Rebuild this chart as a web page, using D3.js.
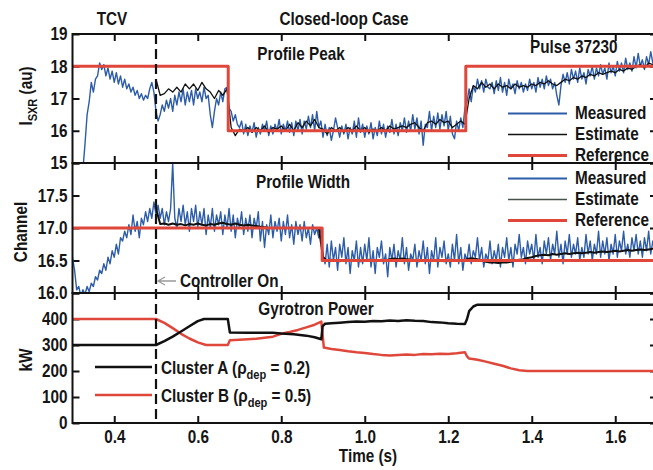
<!DOCTYPE html>
<html>
<head>
<meta charset="utf-8">
<script src="https://cdn.jsdelivr.net/npm/d3@7"></script>
<style>
  html, body { margin: 0; padding: 0; background: #fff; }
  svg text {
    font-family: "Liberation Sans Narrow", "Arial Narrow", "Liberation Sans", Arial, sans-serif;
    font-weight: bold;
    fill: #151515;
  }
</style>
</head>
<body>
<svg id="chart" width="653" height="470"></svg>
<script>
// ---- time axis ----
const timeDomain = [0.3, 1.7];
const timeTicks = [0.4, 0.6, 0.8, 1.0, 1.2, 1.4, 1.6];
const controllerOnTime = 0.5;

// ---- profile peak (I_SXR, au) ----
const peakTicks = [15, 16, 17, 18, 19];
const peakMeasuredStart = 0.325, peakMeasuredStep = 0.005;
const peakMeasured = [
  14.8, 15.6, 16.5, 16.9, 17.5,
  17.2, 17.6, 17.7, 18.1, 17.9, 18.05, 17.7, 17.95, 17.6, 17.85,
  17.5, 17.8, 17.45, 17.7, 17.35, 17.6, 17.3, 17.45, 17.2, 17.35,
  17.1, 17.25, 17.0, 17.15, 16.95, 17.1, 17.0, 17.3, 17.5, 17.2,
  16.6, 16.3, 16.5, 16.8, 16.6, 16.95, 16.7, 17.0, 16.6, 17.1,
  16.8, 17.2, 16.9, 17.3, 16.8, 17.2, 16.9, 17.25, 16.8, 17.3,
  17.0, 17.2, 16.9, 17.35, 17.0, 17.1, 16.5, 16.1, 16.6, 17.0,
  16.8, 17.2, 16.9, 17.3, 17.35, 16.7, 16.6, 16.3, 16.5, 16.2,
  16.1, 16.3, 15.9, 16.2, 15.85, 16.15, 15.95, 16.25, 15.8, 16.1,
  15.9, 16.2, 16.0, 16.3, 15.85, 16.15, 15.9, 16.2, 16.0, 16.35,
  15.9, 16.2, 16.0, 16.3, 15.95, 16.25, 15.85, 16.3, 16.0, 16.35,
  15.9, 16.3, 16.05, 16.45, 16.1, 16.5, 16.0, 16.6, 16.1, 16.3,
  15.8, 16.2, 15.85, 16.1, 15.7, 16.0, 16.4, 16.1, 15.8, 16.15,
  15.9, 16.2, 15.75, 16.1, 15.9, 16.3, 15.8, 16.4, 15.95, 16.2,
  15.8, 16.15, 15.9, 16.25, 15.75, 16.1, 15.85, 16.3, 15.9, 16.2,
  15.8, 16.15, 15.95, 16.35, 15.9, 16.2, 15.85, 16.25, 16.0, 16.4,
  15.95, 16.3, 16.0, 16.5, 16.05, 16.4, 15.9, 16.3, 15.55, 16.2,
  16.1, 16.6, 16.0, 16.45, 16.1, 16.55, 16.05, 16.5, 16.15, 16.6,
  16.0, 16.45, 15.9, 15.75, 16.3, 16.0, 16.4, 16.1, 16.7, 16.9,
  17.3, 16.9, 17.4, 17.2, 17.6, 17.3, 17.55, 17.2, 17.6, 17.35,
  17.3, 17.5, 17.15, 17.55, 17.25, 17.65, 17.2, 17.5, 17.1, 17.6,
  17.3, 17.45, 17.15, 17.55, 17.3, 17.5, 17.2, 17.45, 17.25, 17.6,
  17.3, 17.5, 17.2, 17.65, 17.35, 17.6, 17.3, 17.7, 17.4, 17.6,
  17.3, 17.5, 17.1, 16.8, 17.4, 17.75, 17.5, 17.8, 17.45, 17.9,
  17.6, 17.85, 17.5, 17.95, 17.6, 17.8, 17.45, 17.9, 17.7, 18.0,
  17.6, 17.95, 17.7, 18.05, 17.75, 17.95, 17.6, 18.1, 17.8, 18.0,
  17.7, 18.15, 17.85, 18.1, 17.8, 18.25, 17.9, 18.1, 17.85, 18.3,
  17.95, 18.4, 18.0, 18.2, 17.9, 18.3, 18.05, 18.45, 18.1, 18.3,
  18.0
];
const peakEstimateStart = 0.5, peakEstimateStep = 0.01;
const peakEstimate = [
  17.6, 17.1, 17.15, 17.3, 17.2, 17.35, 17.2, 17.45, 17.3, 17.45,
  17.25, 17.5, 17.3, 17.2, 17.0, 17.25, 17.1, 17.3, 16.1, 15.85,
  16.05, 16.0, 16.1, 15.95, 16.1, 16.0, 16.15, 15.95, 16.1, 16.05,
  16.15, 16.0, 16.2, 16.0, 16.25, 16.1, 16.3, 16.15, 16.35, 16.1,
  16.05, 15.9, 16.1, 16.0, 16.1, 15.95, 16.1, 16.0, 16.15, 16.0,
  16.1, 15.95, 16.05, 16.0, 16.1, 16.0, 16.15, 16.05, 16.1, 16.15,
  16.1, 16.2, 16.25, 16.1, 16.0, 16.25, 16.3, 16.2, 16.35, 16.25,
  16.3, 16.1, 16.2, 16.3, 16.2, 17.0, 17.4, 17.3, 17.5, 17.35,
  17.45, 17.3, 17.45, 17.35, 17.4, 17.3, 17.45, 17.35, 17.4, 17.35,
  17.45, 17.4, 17.5, 17.45, 17.55, 17.45, 17.4, 17.5, 17.6, 17.55,
  17.65, 17.6, 17.7, 17.65, 17.75, 17.7, 17.8, 17.75, 17.8, 17.85,
  17.8, 17.9, 17.85, 17.95, 17.9, 18.0, 18.05, 17.95, 18.1, 18.05,
  18.1
];
const peakRefTimes = [0.3, 0.673, 1.242, 1.7];
const peakRefLevels = [18, 16, 18, 18];

// ---- profile width (channel) ----
const widthTicks = [16.0, 16.5, 17.0, 17.5, 18.0];
const widthMeasuredStart = 0.3, widthMeasuredStep = 0.005;
const widthMeasured = [
  16.55, 16.35, 16.05, 16.1, 15.95, 16.05, 15.98, 16.1, 16.02, 16.15,
  16.1, 16.25, 16.2, 16.35, 16.3, 16.45, 16.35, 16.55, 16.45, 16.65,
  16.55, 16.75, 16.6, 16.85, 16.8, 16.95, 16.85, 17.05, 16.9, 17.2,
  16.95, 17.1, 16.85, 17.15, 17.05, 17.25, 17.1, 17.3, 17.15, 17.4,
  17.2, 17.35, 17.15, 17.3, 17.05, 17.25, 17.1, 17.3, 18.0, 17.15,
  17.0, 17.3, 17.1, 17.35, 17.05, 17.25, 16.95, 17.3, 17.1, 17.35,
  17.0, 17.25, 17.05, 17.3, 16.9, 17.2, 17.0, 17.3, 16.95, 17.2,
  17.05, 17.25, 16.9, 17.2, 17.0, 17.3, 16.95, 17.2, 16.85, 17.15,
  17.0, 17.25, 16.9, 17.15, 16.95, 17.2, 16.85, 17.15, 17.0, 17.25,
  16.8, 17.1, 16.7, 17.05, 16.9, 17.2, 16.85, 17.1, 16.95, 17.15,
  16.8, 17.1, 16.9, 17.2, 16.85, 17.05, 16.75, 17.1, 16.9, 17.05,
  16.8, 17.1, 16.85, 17.0, 16.75, 17.05, 16.9, 17.0, 16.85, 17.0,
  16.6, 16.45, 16.75, 16.4, 16.8, 16.5, 16.7, 16.35, 16.75, 16.55,
  16.85, 16.45, 16.7, 16.3, 16.65, 16.5, 16.8, 16.4, 16.7, 16.45,
  16.75, 16.5, 16.85, 16.4, 16.65, 16.3, 16.7, 16.55, 16.8, 16.45,
  16.6, 16.25, 16.7, 16.5, 16.75, 16.4, 16.65, 16.5, 16.85, 16.45,
  16.7, 16.35, 16.6, 16.5, 16.75, 16.4, 16.65, 16.5, 16.8, 16.45,
  16.7, 16.3, 16.65, 16.5, 16.85, 16.4, 16.7, 16.55, 16.8, 16.45,
  16.6, 16.4, 16.75, 16.5, 16.9, 16.45, 16.7, 16.35, 16.6, 16.5,
  16.75, 16.45, 16.65, 16.55, 16.85, 16.5, 16.7, 16.4, 16.6, 16.5,
  16.8, 16.45, 16.65, 16.5, 16.75, 16.4, 16.7, 16.55, 16.85, 16.5,
  16.7, 16.4, 16.75, 16.6, 16.9, 16.55, 16.7, 16.45, 16.8, 16.6,
  16.75, 16.5, 16.9, 16.55, 16.7, 16.45, 16.8, 16.6, 16.85, 16.5,
  16.75, 16.6, 16.95, 16.55, 16.75, 16.45, 16.8, 16.6, 16.9, 16.55,
  16.75, 16.6, 16.85, 16.5, 16.7, 16.55, 16.9, 16.6, 16.8, 16.5,
  16.75, 16.6, 16.95, 16.55, 16.8, 16.6, 16.85, 16.5, 16.75, 16.6,
  16.9, 16.55, 16.8, 16.65, 16.95, 16.6, 16.75, 16.55, 16.85, 16.65,
  16.9, 16.6, 16.8, 16.55, 16.85, 16.65, 16.95, 16.6, 16.8, 16.65,
  16.85
];
const widthEstimateStart = 0.5, widthEstimateStep = 0.01;
const widthEstimate = [
  17.3, 17.06, 17.07, 17.05, 17.07, 17.05, 17.06, 17.04, 17.06, 17.05,
  17.07, 17.05, 17.04, 17.06, 17.05, 17.07, 17.08, 17.06, 17.05, 17.07,
  17.05, 17.04, 17.05, 17.04, 17.03, 17.02, 17.01, 17.0, 17.0, 17.0,
  17.0, 17.0, 17.0, 17.0, 17.0, 17.0, 17.0, 17.0, 17.0, 17.0,
  16.55, 16.5, 16.51, 16.5, 16.49, 16.5, 16.51, 16.5, 16.5, 16.49,
  16.5, 16.51, 16.5, 16.5, 16.51, 16.5, 16.52, 16.53, 16.52, 16.53,
  16.52, 16.51, 16.5, 16.49, 16.5, 16.5, 16.51, 16.5, 16.5, 16.49,
  16.5, 16.51, 16.5, 16.5, 16.51, 16.53, 16.53, 16.52, 16.5, 16.48,
  16.47, 16.47, 16.46, 16.47, 16.47, 16.48, 16.5, 16.51, 16.52, 16.54,
  16.55, 16.57, 16.58, 16.59, 16.58, 16.6, 16.59, 16.6, 16.61, 16.6,
  16.61, 16.62, 16.61, 16.62, 16.63, 16.62, 16.63, 16.64, 16.63, 16.64,
  16.65, 16.64, 16.65, 16.66, 16.65, 16.66, 16.67, 16.66, 16.67, 16.68,
  16.68
];
const widthRefTimes = [0.3, 0.898, 1.7];
const widthRefLevels = [17.0, 16.5, 16.5];

// ---- gyrotron power (kW) ----
const powerTicks = [0, 100, 200, 300, 400, 500];
const clusterATimes = [0.3, 0.5, 0.52, 0.54, 0.56, 0.58, 0.6, 0.615, 0.672, 0.677,
  0.72, 0.78, 0.80, 0.83, 0.86, 0.88, 0.896, 0.899, 0.905, 0.92, 0.94, 0.96, 0.98,
  1.0, 1.02, 1.04, 1.06, 1.08, 1.1, 1.12, 1.14, 1.16, 1.18, 1.2, 1.22, 1.24,
  1.245, 1.25, 1.26, 1.27, 1.7];
const clusterAPower = [300, 300, 315, 332, 352, 372, 392, 400, 400, 348,
  347, 347, 344, 341, 336, 330, 322, 372, 382, 384, 386, 388, 390,
  389, 392, 391, 394, 392, 395, 393, 392, 388, 387, 384, 382, 381,
  400, 430, 448, 455, 455];
const clusterBTimes = [0.3, 0.5, 0.52, 0.54, 0.56, 0.58, 0.6, 0.62, 0.672, 0.677,
  0.70, 0.74, 0.78, 0.80, 0.82, 0.84, 0.86, 0.88, 0.896, 0.899, 0.902,
  0.92, 0.94, 0.96, 0.98, 1.0, 1.02, 1.04, 1.06, 1.08, 1.1, 1.12, 1.14, 1.16, 1.18,
  1.2, 1.22, 1.24, 1.245, 1.25, 1.27, 1.29, 1.31, 1.33, 1.35, 1.37, 1.39, 1.7];
const clusterBPower = [400, 400, 385, 365, 343, 325, 310, 300, 300, 318,
  320, 324, 332, 343, 350, 358, 368, 378, 390, 340, 290,
  285, 281, 276, 272, 269, 265, 262, 260, 262, 263, 262, 265, 264, 266,
  265, 268, 272, 256, 248, 243, 236, 228, 220, 210, 203, 200, 200];

// ---- colours ----
const BLUE = "#2d5ca8", RED = "#e0473b", BLACK = "#111111";
const NARROW = 0.85;   // horizontal squeeze giving a condensed bold face

// ---- layout ----
const svg = d3.select("#chart");
const xLeft = 72.5, xRight = 657;
const x = d3.scaleLinear().domain(timeDomain).range([xLeft, xRight]);

const yPeak = d3.scaleLinear().domain([15, 19]).range([163, 34]);
const yWidth = d3.scaleLinear().domain([16, 18]).range([293, 163]);
const yPower = d3.scaleLinear().domain([0, 500]).range([423, 293]);

const regular = (start, step, values) => values.map((v, i) => ({ t: start + i * step, v }));
const paired = (times, values) => times.map((t, i) => ({ t, v: values[i] }));

// Frame, inward ticks on all four sides, labels on the left (and bottom for the last panel)
function drawPanel(id, y, ticks, fmt, hideLabel, showTimeLabels) {
  const [bottom, top] = y.range();
  const g = svg.append("g").attr("class", "panel-" + id);

  svg.append("clipPath").attr("id", "clip-" + id)
    .append("rect").attr("x", xLeft).attr("y", top)
    .attr("width", xRight - xLeft).attr("height", bottom - top);

  const styleAxis = sel => {
    sel.select(".domain").remove();
    sel.selectAll(".tick line").attr("stroke", BLACK).attr("stroke-width", 2);
    sel.selectAll(".tick text").attr("font-size", 18).attr("fill", "#151515");
    sel.selectAll(".tick text").filter(function () { return this.textContent === ""; }).remove();
  };

  g.append("g").attr("transform", `translate(${xLeft},0)`)
    .call(d3.axisLeft(y).tickValues(ticks).tickSize(-7).tickPadding(5)
      .tickFormat(d => hideLabel.includes(d) ? "" : fmt(d)))
    .call(styleAxis);
  g.append("g").attr("transform", `translate(${xRight},0)`)
    .call(d3.axisRight(y).tickValues(ticks).tickSize(-7).tickFormat(""))
    .call(styleAxis);
  g.append("g").attr("transform", `translate(0,${top})`)
    .call(d3.axisTop(x).tickValues(timeTicks).tickSize(-7).tickFormat(""))
    .call(styleAxis);
  g.append("g").attr("transform", `translate(0,${bottom})`)
    .call(d3.axisBottom(x).tickValues(timeTicks).tickSize(-7).tickPadding(7)
      .tickFormat(showTimeLabels ? d3.format(".1f") : ""))
    .call(styleAxis);

  return g;
}

function plotLine(id, y, data, color, width, curve) {
  const line = d3.line().x(d => x(d.t)).y(d => y(d.v)).curve(curve || d3.curveLinear);
  svg.append("path").datum(data)
    .attr("clip-path", `url(#clip-${id})`)
    .attr("fill", "none").attr("stroke", color).attr("stroke-width", width)
    .attr("stroke-linejoin", "round").attr("d", line);
}

function frame(y) {
  const [bottom, top] = y.range();
  svg.append("rect").attr("x", xLeft).attr("y", top)
    .attr("width", xRight - xLeft).attr("height", bottom - top)
    .attr("fill", "none").attr("stroke", BLACK).attr("stroke-width", 2);
}

// ---- panel 1: profile peak ----
drawPanel("peak", yPeak, peakTicks, d3.format("d"), [], false);
plotLine("peak", yPeak, regular(peakMeasuredStart, peakMeasuredStep, peakMeasured), BLUE, 1.4);
plotLine("peak", yPeak, regular(peakEstimateStart, peakEstimateStep, peakEstimate), BLACK, 1.3);
plotLine("peak", yPeak, paired(peakRefTimes, peakRefLevels), RED, 3, d3.curveStepAfter);

// ---- panel 2: profile width ----
drawPanel("width", yWidth, widthTicks, d3.format(".1f"), [18], false);
plotLine("width", yWidth, regular(widthMeasuredStart, widthMeasuredStep, widthMeasured), BLUE, 1.4);
plotLine("width", yWidth, regular(widthEstimateStart, widthEstimateStep, widthEstimate), BLACK, 2);
plotLine("width", yWidth, paired(widthRefTimes, widthRefLevels), RED, 3, d3.curveStepAfter);

// ---- panel 3: gyrotron power ----
drawPanel("power", yPower, powerTicks, d3.format("d"), [500], true);
plotLine("power", yPower, paired(clusterBTimes, clusterBPower), RED, 2.5);
plotLine("power", yPower, paired(clusterATimes, clusterAPower), BLACK, 2.5);

frame(yPeak); frame(yWidth); frame(yPower);

// controller switch-on marker
svg.append("line")
  .attr("x1", x(controllerOnTime)).attr("x2", x(controllerOnTime))
  .attr("y1", yPeak.range()[1]).attr("y2", yPower.range()[0])
  .attr("stroke", BLACK).attr("stroke-width", 2.2).attr("stroke-dasharray", "10,5");

// ---- text ----
const txt = (s, xx, yy, anchor, size) => svg.append("text")
  .attr("x", xx).attr("y", yy).attr("text-anchor", anchor || "start")
  .attr("font-size", size || 18).text(s);

txt("TCV", 112, 25, "middle");
txt("Closed-loop Case", 344, 25, "middle");
txt("Profile Peak", 301, 60, "middle");
txt("Pulse 37230", 530, 53);
txt("Profile Width", 303, 188, "middle");
txt("Gyrotron Power", 316, 315, "middle");
txt("Controller On", 180, 287);
txt("Time (s)", 368, 462, "middle");

// arrow pointing at the switch-on time
const ax = x(controllerOnTime) + 2, ay = 281;
svg.append("path")
  .attr("d", `M${ax + 18},${ay} L${ax},${ay} M${ax + 7},${ay - 4} L${ax},${ay} L${ax + 7},${ay + 4}`)
  .attr("fill", "none").attr("stroke", "#9a9a9a").attr("stroke-width", 1.3);

// y-axis titles
const ylab = svg.append("text").attr("transform", "translate(32,96) rotate(-90)")
  .attr("text-anchor", "middle").attr("font-size", 18);
ylab.append("tspan").text("I");
ylab.append("tspan").attr("font-size", 13).attr("dy", 5).text("SXR");
ylab.append("tspan").attr("dy", -5).text(" (au)");
svg.append("text").attr("transform", "translate(27,232) rotate(-90)")
  .attr("text-anchor", "middle").attr("font-size", 18).text("Channel");
svg.append("text").attr("transform", "translate(32,360) rotate(-90)")
  .attr("text-anchor", "middle").attr("font-size", 18).text("kW");

// legends for the two profile panels
const profileLegend = [
  { label: "Measured", color: BLUE, width: 1.8 },
  { label: "Estimate", color: BLACK, width: 1.3 },
  { label: "Reference", color: RED, width: 3 }
];
function legend(rows, y0, dy, estimateColor) {
  rows.forEach((r, i) => {
    const yy = y0 + i * dy;
    svg.append("line").attr("x1", 508).attr("x2", 567).attr("y1", yy).attr("y2", yy)
      .attr("stroke", i === 1 && estimateColor ? estimateColor : r.color)
      .attr("stroke-width", r.width);
    txt(r.label, 575, yy + 6);
  });
}
legend(profileLegend, 113.5, 21, null);
legend(profileLegend, 178.5, 21, "#48524a");

// legend for gyrotron clusters
const clusterLegend = [
  { name: "Cluster A", rho: "0.2", color: BLACK, y: 367 },
  { name: "Cluster B", rho: "0.5", color: RED, y: 395 }
];
clusterLegend.forEach(c => {
  svg.append("line").attr("x1", 95).attr("x2", 152).attr("y1", c.y).attr("y2", c.y)
    .attr("stroke", c.color).attr("stroke-width", 2.5);
  const t = svg.append("text").attr("x", 161).attr("y", c.y + 7).attr("font-size", 18);
  t.append("tspan").text(c.name + " (\u03C1");
  t.append("tspan").attr("font-size", 13).attr("dy", 5).text("dep");
  t.append("tspan").attr("dy", -5).text(" = " + c.rho + ")");
});

// squeeze every label horizontally about its anchor point for a condensed bold face
svg.selectAll("text").each(function () {
  const sel = d3.select(this);
  const ox = +sel.attr("x") || 0;
  const prev = sel.attr("transform") || "";
  sel.attr("transform", `${prev} translate(${ox},0) scale(${NARROW},1) translate(${-ox},0)`.trim());
});
</script>
</body>
</html>
